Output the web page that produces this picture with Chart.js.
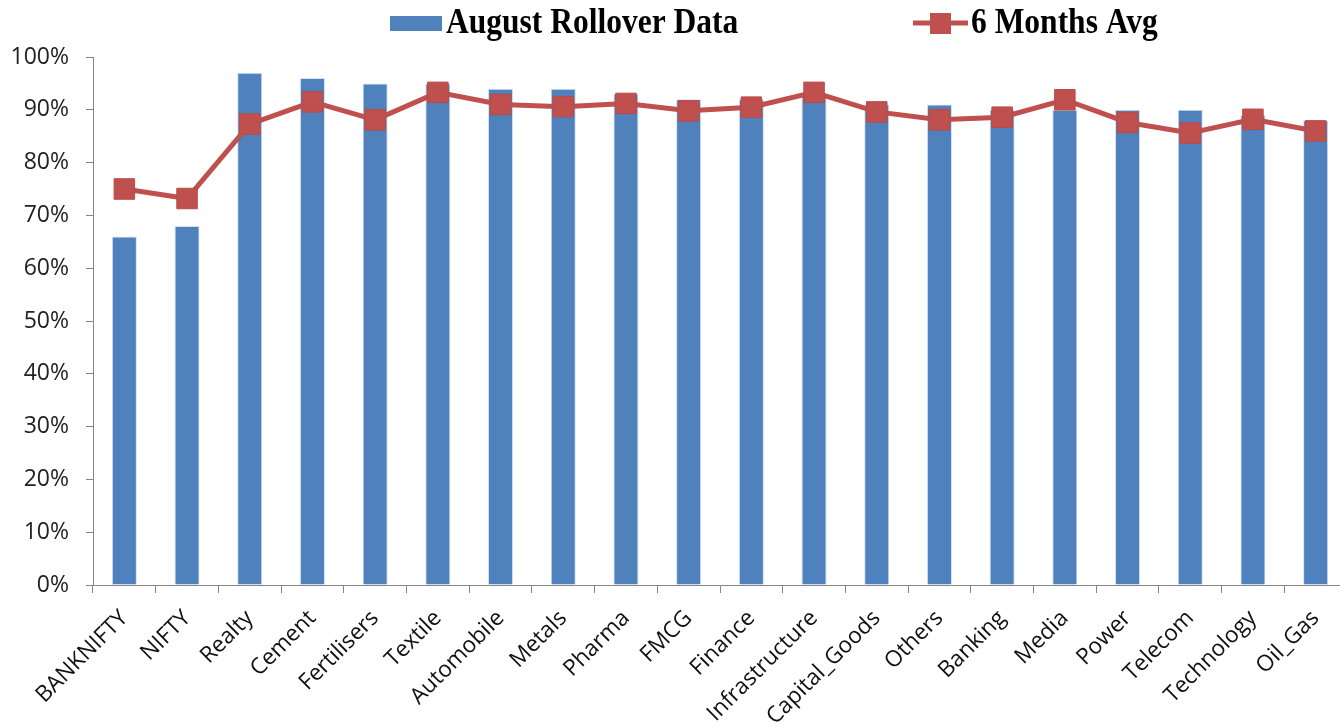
<!DOCTYPE html>
<html><head><meta charset="utf-8">
<script src="https://cdn.jsdelivr.net/npm/chart.js@4"></script>
<style>html,body{margin:0;padding:0;background:#fff;overflow:hidden}#wrap{width:1340px;height:727px;position:relative;overflow:hidden}#c{display:block}</style>
</head><body><div id="wrap"><canvas id="c" width="1347" height="727"></canvas></div>
<script>
const categories = ["BANKNIFTY","NIFTY","Realty","Cement","Fertilisers","Textile","Automobile","Metals","Pharma","FMCG","Finance","Infrastructure","Capital_Goods","Others","Banking","Media","Power","Telecom","Technology","Oil_Gas"];
const augustRollover = [66,68,97,96,95,95,94,94,93,92,92,93,91,91,90,90,90,90,89,88];
const sixMonthsAvg = [75.0,73.2,87.3,91.5,88.1,93.3,91.0,90.6,91.2,89.8,90.5,93.3,89.6,88.1,88.6,91.9,87.6,85.6,88.2,86.0];
const yMin = 0, yMax = 100, yStep = 10;

const BLUE = '#4F81BD', RED = '#C0504D', AXIS = '#868686';
const yFont = {family: '"Open Sans", sans-serif', size: 23};
const xFont = {family: '"Open Sans", sans-serif', size: 22.5};

function legendText(ctx, text, x, y) {
  ctx.save();
  ctx.translate(x, y);
  ctx.scale(0.9, 1);
  ctx.fillText(text, 0, 0);
  ctx.restore();
}

const legendPlugin = {
  id: 'topLegend',
  afterDraw(chart) {
    const ctx = chart.ctx, ds = chart.data.datasets;
    ctx.save();
    ctx.font = 'bold 35px "Liberation Serif", serif';
    ctx.textBaseline = 'alphabetic';
    ctx.fillStyle = ds[0].backgroundColor;
    ctx.fillRect(390, 16, 52, 15);
    ctx.fillStyle = '#000';
    legendText(ctx, ds[0].label, 446, 33);
    ctx.strokeStyle = ds[1].borderColor;
    ctx.lineWidth = 5;
    ctx.beginPath(); ctx.moveTo(913, 23); ctx.lineTo(968, 23); ctx.stroke();
    ctx.fillStyle = ds[1].pointBackgroundColor;
    ctx.fillRect(930, 13, 21, 21);
    ctx.fillStyle = '#000';
    legendText(ctx, ds[1].label, 971, 33);
    ctx.restore();
  }
};

new Chart(document.getElementById('c'), {
  type: 'bar',
  data: {
    labels: categories,
    datasets: [
      {type: 'bar', label: 'August Rollover Data', data: augustRollover, backgroundColor: BLUE,
       borderColor: 'rgba(180,205,235,0.6)', borderWidth: 1, barPercentage: 0.4, categoryPercentage: 1.0, order: 1},
      {type: 'line', label: '6 Months Avg', data: sixMonthsAvg, borderColor: RED, borderWidth: 5,
       pointStyle: 'rect', pointRadius: 14.5, pointHoverRadius: 14.5, pointBackgroundColor: RED,
       pointBorderColor: '#B94A47', pointBorderWidth: 1, tension: 0, fill: false, order: 0, clip: false}
    ]
  },
  options: {
    responsive: false, animation: false, devicePixelRatio: 1,
    layout: {autoPadding: false, padding: {top: 57, right: 0, left: 0, bottom: 0}},
    plugins: {legend: {display: false}, tooltip: {enabled: false}},
    scales: {
      x: {
        offset: true,
        grid: {display: true, drawOnChartArea: false, drawTicks: true, tickLength: 8, color: AXIS, offset: true},
        border: {display: true, color: AXIS, width: 1},
        ticks: {minRotation: 45, maxRotation: 45, autoSkip: false, font: xFont, color: '#111', padding: 12},
        afterFit(s) { s.height = 142; s.paddingLeft = 0; s.paddingRight = 0; }
      },
      y: {
        min: yMin, max: yMax,
        grid: {display: true, drawOnChartArea: false, drawTicks: true, tickLength: 7, color: AXIS},
        border: {display: true, color: AXIS, width: 1},
        ticks: {stepSize: yStep, font: yFont, color: '#222', padding: 17, callback: v => v + '%'},
        afterFit(s) { s.width = 93; }
      }
    }
  },
  plugins: [legendPlugin]
});
</script></body></html>
